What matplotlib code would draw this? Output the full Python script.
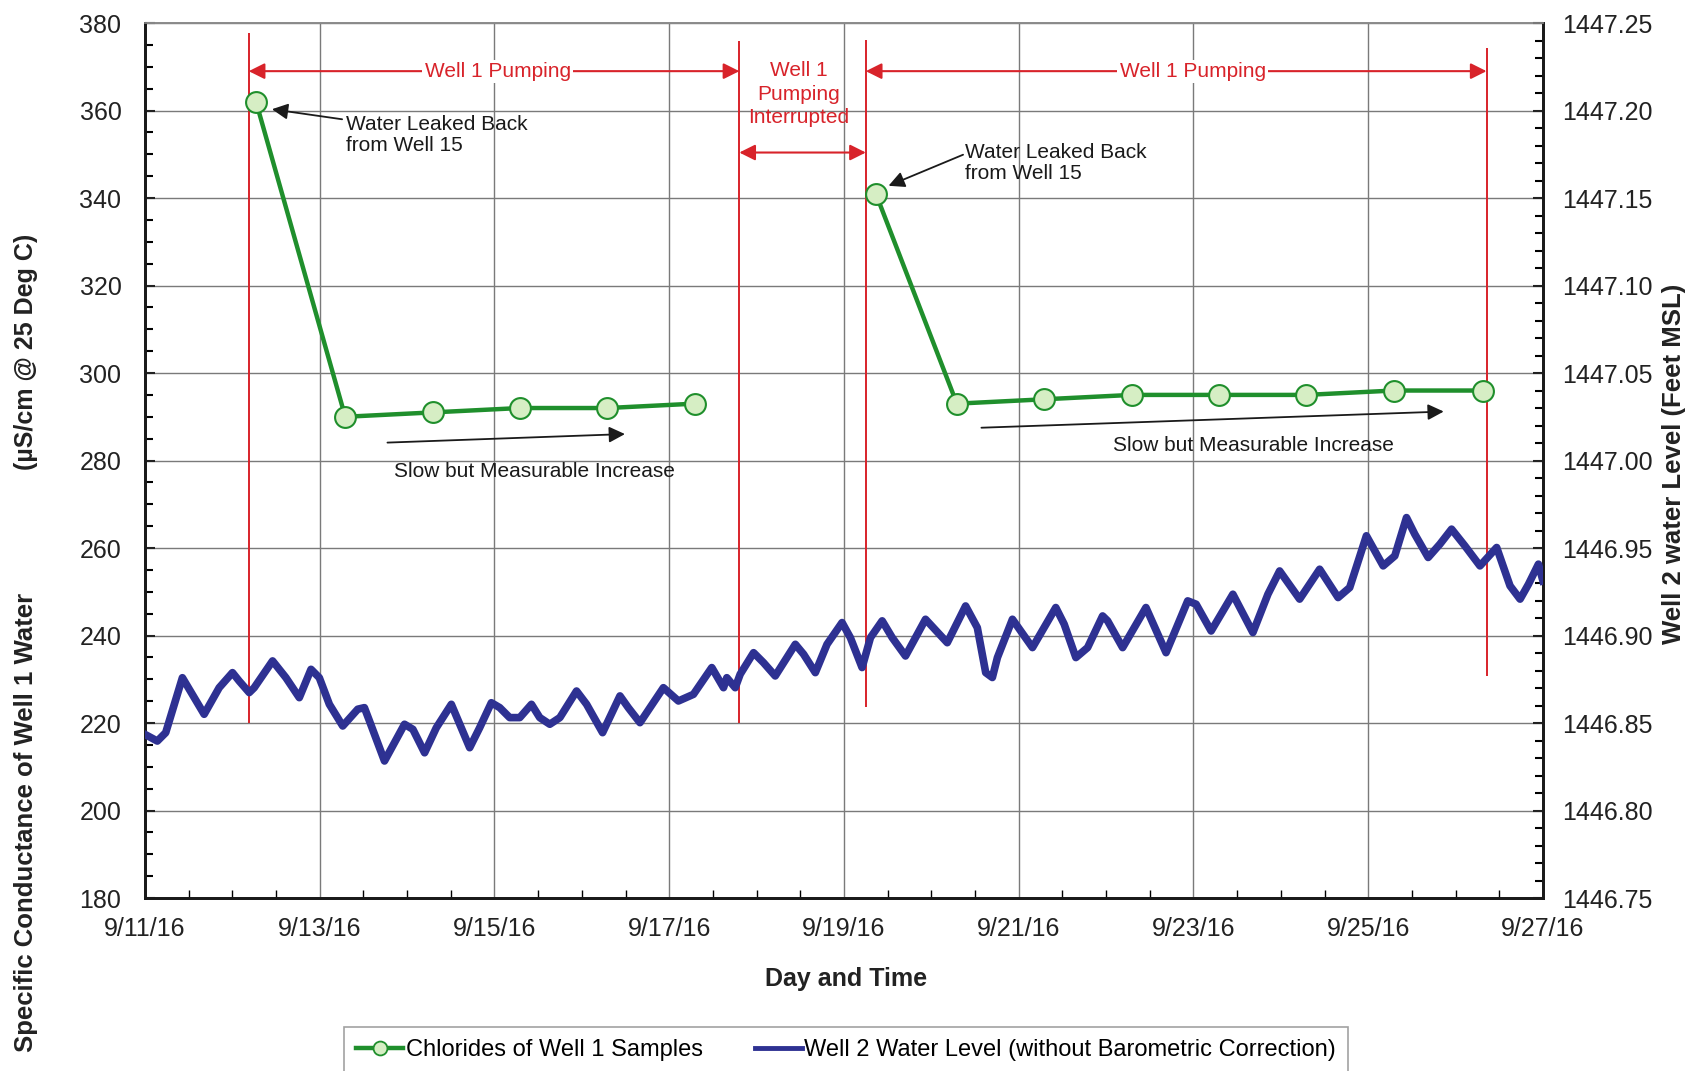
import matplotlib
matplotlib.use("Agg")
import matplotlib.pyplot as plt
import matplotlib.dates as mdates
from matplotlib.ticker import MultipleLocator, FixedLocator, FuncFormatter, FormatStrFormatter
from matplotlib.lines import Line2D
import numpy as np
import pandas as pd

plt.rcParams['font.family'] = ['Liberation Sans', 'DejaVu Sans']

# ---- data ----
start = pd.Timestamp('2016-09-11')

sample_times = ['2016-09-12 06:30', '2016-09-13 07:00', '2016-09-14 07:00', '2016-09-15 07:00',
                '2016-09-16 07:00', '2016-09-17 07:00', '2016-09-19 08:45', '2016-09-20 07:00',
                '2016-09-21 07:00', '2016-09-22 07:00', '2016-09-23 07:00', '2016-09-24 07:00',
                '2016-09-25 07:00', '2016-09-26 07:30']
chloride = [362, 290, 291, 292, 292, 293, 341, 293, 294, 295, 295, 295, 296, 296]

# well 2 level, days after 9/11/16 00:00 and feet MSL (peaks / troughs of the trace)
level_day = [0.000, 0.141, 0.237, 0.428, 0.677, 0.849, 1.001, 1.078, 1.193, 1.250,
             1.460, 1.613, 1.766, 1.900, 1.995, 2.110, 2.263, 2.435, 2.511, 2.569,
             2.741, 2.970, 3.066, 3.200, 3.334, 3.506, 3.716, 3.830, 3.964, 4.060,
             4.174, 4.289, 4.423, 4.518, 4.633, 4.748, 4.939, 5.054, 5.237, 5.436,
             5.531, 5.665, 5.780, 5.933, 6.105, 6.277, 6.487, 6.621, 6.659, 6.755,
             6.812, 6.965, 7.079, 7.213, 7.443, 7.538, 7.672, 7.806, 7.978, 8.073,
             8.207, 8.303, 8.437, 8.552, 8.704, 8.933, 9.182, 9.392, 9.526, 9.622,
             9.698, 9.756, 9.928, 10.157, 10.424, 10.520, 10.654, 10.788, 10.960, 11.017,
             11.189, 11.456, 11.686, 11.934, 12.030, 12.202, 12.451, 12.680, 12.852, 12.986,
             13.215, 13.444, 13.655, 13.788, 13.979, 14.171, 14.304, 14.438, 14.533, 14.686,
             14.820, 14.954, 15.107, 15.279, 15.470, 15.623, 15.738, 15.834, 15.948, 16.000]
level_ft = [1446.8435, 1446.8397, 1446.8445, 1446.8759, 1446.8550, 1446.8702, 1446.8788, 1446.8740, 1446.8674, 1446.8702,
            1446.8855, 1446.8759, 1446.8645, 1446.8807, 1446.8759, 1446.8607, 1446.8483, 1446.8579, 1446.8588, 1446.8512,
            1446.8283, 1446.8493, 1446.8464, 1446.8330, 1446.8473, 1446.8607, 1446.8359, 1446.8473, 1446.8616, 1446.8588,
            1446.8531, 1446.8531, 1446.8607, 1446.8531, 1446.8493, 1446.8531, 1446.8683, 1446.8607, 1446.8445, 1446.8655,
            1446.8588, 1446.8502, 1446.8588, 1446.8702, 1446.8626, 1446.8664, 1446.8817, 1446.8702, 1446.8759, 1446.8702,
            1446.8779, 1446.8902, 1446.8845, 1446.8769, 1446.8950, 1446.8893, 1446.8788, 1446.8950, 1446.9074, 1446.8988,
            1446.8817, 1446.8988, 1446.9084, 1446.8988, 1446.8883, 1446.9093, 1446.8959, 1446.9169, 1446.9045, 1446.8788,
            1446.8760, 1446.8874, 1446.9093, 1446.8931, 1446.9160, 1446.9065, 1446.8874, 1446.8931, 1446.9112, 1446.9084,
            1446.8931, 1446.9160, 1446.8902, 1446.9198, 1446.9179, 1446.9026, 1446.9236, 1446.9017, 1446.9236, 1446.9369,
            1446.9208, 1446.9379, 1446.9217, 1446.9274, 1446.9570, 1446.9398, 1446.9455, 1446.9674, 1446.9579, 1446.9446,
            1446.9522, 1446.9608, 1446.9512, 1446.9398, 1446.9503, 1446.9284, 1446.9208, 1446.9293, 1446.9408, 1446.9312]

# pumping events (red markers) and their vertical extent on the left axis
event_times = ['2016-09-12 04:30', '2016-09-17 19:15', '2016-09-19 06:00', '2016-09-26 08:30']
event_top = [377.8, 375.8, 376.2, 374.2]
event_bottom = [220.0, 220.0, 223.7, 230.8]

green = '#1f8f2c'
green_face = '#d6eec4'
blue = '#2e3192'
red = '#d8232a'

sample_t = pd.to_datetime(sample_times)
level_t = start + pd.to_timedelta(level_day, unit='D')
ev = pd.to_datetime(event_times)

def t(day):
    return start + pd.Timedelta(days=day)

fig = plt.figure(figsize=(16.9, 10.71), dpi=100)
ax = fig.add_axes([0.0858, 0.1615, 0.8272, 0.817])
ax2 = ax.twinx()

# red event lines
ax.vlines(ev, event_bottom, event_top, color=red, lw=1.4, zorder=2)

# chloride samples
ax.plot(sample_t[:6], chloride[:6], color=green, lw=3.2, marker='o', ms=15,
        mfc=green_face, mec=green, mew=1.5, zorder=5)
ax.plot(sample_t[6:], chloride[6:], color=green, lw=3.2, marker='o', ms=15,
        mfc=green_face, mec=green, mew=1.5, zorder=5)

# water level
ax2.plot(level_t, level_ft, color=blue, lw=5.5, solid_joinstyle='round', zorder=3)

# axes
ax.set_xlim(start, t(16))
ax.set_ylim(180, 380)
ax2.set_ylim(1446.75, 1447.25)
ax.yaxis.set_major_locator(MultipleLocator(20))
ax.yaxis.set_minor_locator(MultipleLocator(5))
ax2.yaxis.set_major_locator(MultipleLocator(0.05))
ax2.yaxis.set_minor_locator(MultipleLocator(0.01))
ax2.yaxis.set_major_formatter(FormatStrFormatter('%.2f'))

major_days = [mdates.date2num(t(d)) for d in range(0, 17, 2)]
minor_days = [mdates.date2num(t(d / 2)) for d in range(0, 33)]
ax.xaxis.set_major_locator(FixedLocator(major_days))
ax.xaxis.set_minor_locator(FixedLocator(minor_days))

def date_label(v, pos):
    d = mdates.num2date(v)
    return f"{d.month}/{d.day}/{d:%y}"

ax.xaxis.set_major_formatter(FuncFormatter(date_label))

ax.grid(True, which='major', color='#7a7a7a', lw=1.0)
ax.set_axisbelow(True)

ax.tick_params(axis='y', which='major', direction='in', length=7, width=1.5, labelsize=18, pad=17, colors='#222222')
ax.tick_params(axis='y', which='minor', direction='in', length=6, width=1.5)
ax.tick_params(axis='x', which='major', direction='in', length=0, labelsize=18, pad=14, colors='#222222')
ax.tick_params(axis='x', which='minor', direction='in', length=6, width=1.0)
ax2.tick_params(axis='y', which='major', direction='in', length=7, width=1.5, labelsize=18, pad=14, colors='#222222')
ax2.tick_params(axis='y', which='minor', direction='in', length=6, width=1.5)

for a in (ax, ax2):
    a.spines['top'].set_color('#8a8a8a')
    a.spines['top'].set_linewidth(1.2)
    for s in ('left', 'bottom', 'right'):
        a.spines[s].set_color('#1a1a1a')
        a.spines[s].set_linewidth(2)

# axis titles
fig.text(0.5006, 0.086, 'Day and Time', ha='center', va='center', fontsize=18, fontweight='bold', color='#222222')
fig.text(0.0155, 0.232, 'Specific Conductance of Well 1 Water', rotation=90, ha='center', va='center',
         fontsize=18.5, fontweight='bold', color='#222222')
fig.text(0.0155, 0.671, '(\u00b5S/cm @ 25 Deg C)', rotation=90, ha='center', va='center',
         fontsize=18, fontweight='bold', color='#222222')
fig.text(0.9905, 0.567, 'Well 2 water Level (Feet MSL)', rotation=90, ha='center', va='center',
         fontsize=18.5, fontweight='bold', color='#222222')

# red period arrows
red_arrow = dict(arrowstyle='<|-|>', color=red, lw=1.5, mutation_scale=24, shrinkA=0, shrinkB=0)
ax.annotate('', xy=(ev[1], 369), xytext=(ev[0], 369), arrowprops=red_arrow, zorder=4)
ax.annotate('', xy=(ev[2], 350.4), xytext=(ev[1], 350.4), arrowprops=red_arrow, zorder=4)
ax.annotate('', xy=(ev[3], 369), xytext=(ev[2], 369), arrowprops=red_arrow, zorder=4)

label_box = dict(facecolor='white', edgecolor='none', pad=1.5)
ax.text(t(4.036), 369, 'Well 1 Pumping', color=red, fontsize=15, ha='center', va='center', bbox=label_box, zorder=6)
ax.text(t(11.99), 369, 'Well 1 Pumping', color=red, fontsize=15, ha='center', va='center', bbox=label_box, zorder=6)
ax.text(t(7.48), 363.7, 'Well 1\nPumping\nInterrupted', color=red, fontsize=15, ha='center', va='center',
        linespacing=1.3, zorder=6)

# black notes
black_arrow = dict(arrowstyle='-|>', color='#1a1a1a', lw=1.3, mutation_scale=24, shrinkA=0, shrinkB=0)
ax.annotate('', xy=(t(1.453), 360.3), xytext=(t(2.256), 358.0), arrowprops=black_arrow)
ax.text(t(2.305), 354.4, 'Water Leaked Back\nfrom Well 15', fontsize=15, ha='left', va='center',
        linespacing=1.15, color='#1a1a1a')
ax.annotate('', xy=(t(8.51), 342.8), xytext=(t(9.363), 349.9), arrowprops=black_arrow)
ax.text(t(9.388), 348.0, 'Water Leaked Back\nfrom Well 15', fontsize=15, ha='left', va='center',
        linespacing=1.15, color='#1a1a1a')

ax.annotate('', xy=(t(5.493), 286.05), xytext=(t(2.775), 284.1), arrowprops=black_arrow)
ax.text(t(2.85), 277.4, 'Slow but Measurable Increase', fontsize=15, ha='left', va='center', color='#1a1a1a')
ax.annotate('', xy=(t(14.864), 291.2), xytext=(t(9.573), 287.5), arrowprops=black_arrow)
ax.text(t(11.08), 283.35, 'Slow but Measurable Increase', fontsize=15, ha='left', va='center', color='#1a1a1a')

# legend
handles = [Line2D([], [], color=green, lw=3.2, marker='o', ms=10, mfc=green_face, mec=green, mew=1.3),
           Line2D([], [], color=blue, lw=3.5)]
labels = ['Chlorides of Well 1 Samples', 'Well 2 Water Level (without Barometric Correction)']
leg = fig.legend(handles, labels, loc='upper center', bbox_to_anchor=(0.5006, 0.041), ncol=2,
                 fontsize=17, frameon=True, fancybox=False, edgecolor='#8a8a8a', borderpad=0.5,
                 borderaxespad=0, handlelength=2.0, handletextpad=0.1, columnspacing=2.2)
leg.get_frame().set_linewidth(1.2)

fig.savefig('out.png', dpi=100)
